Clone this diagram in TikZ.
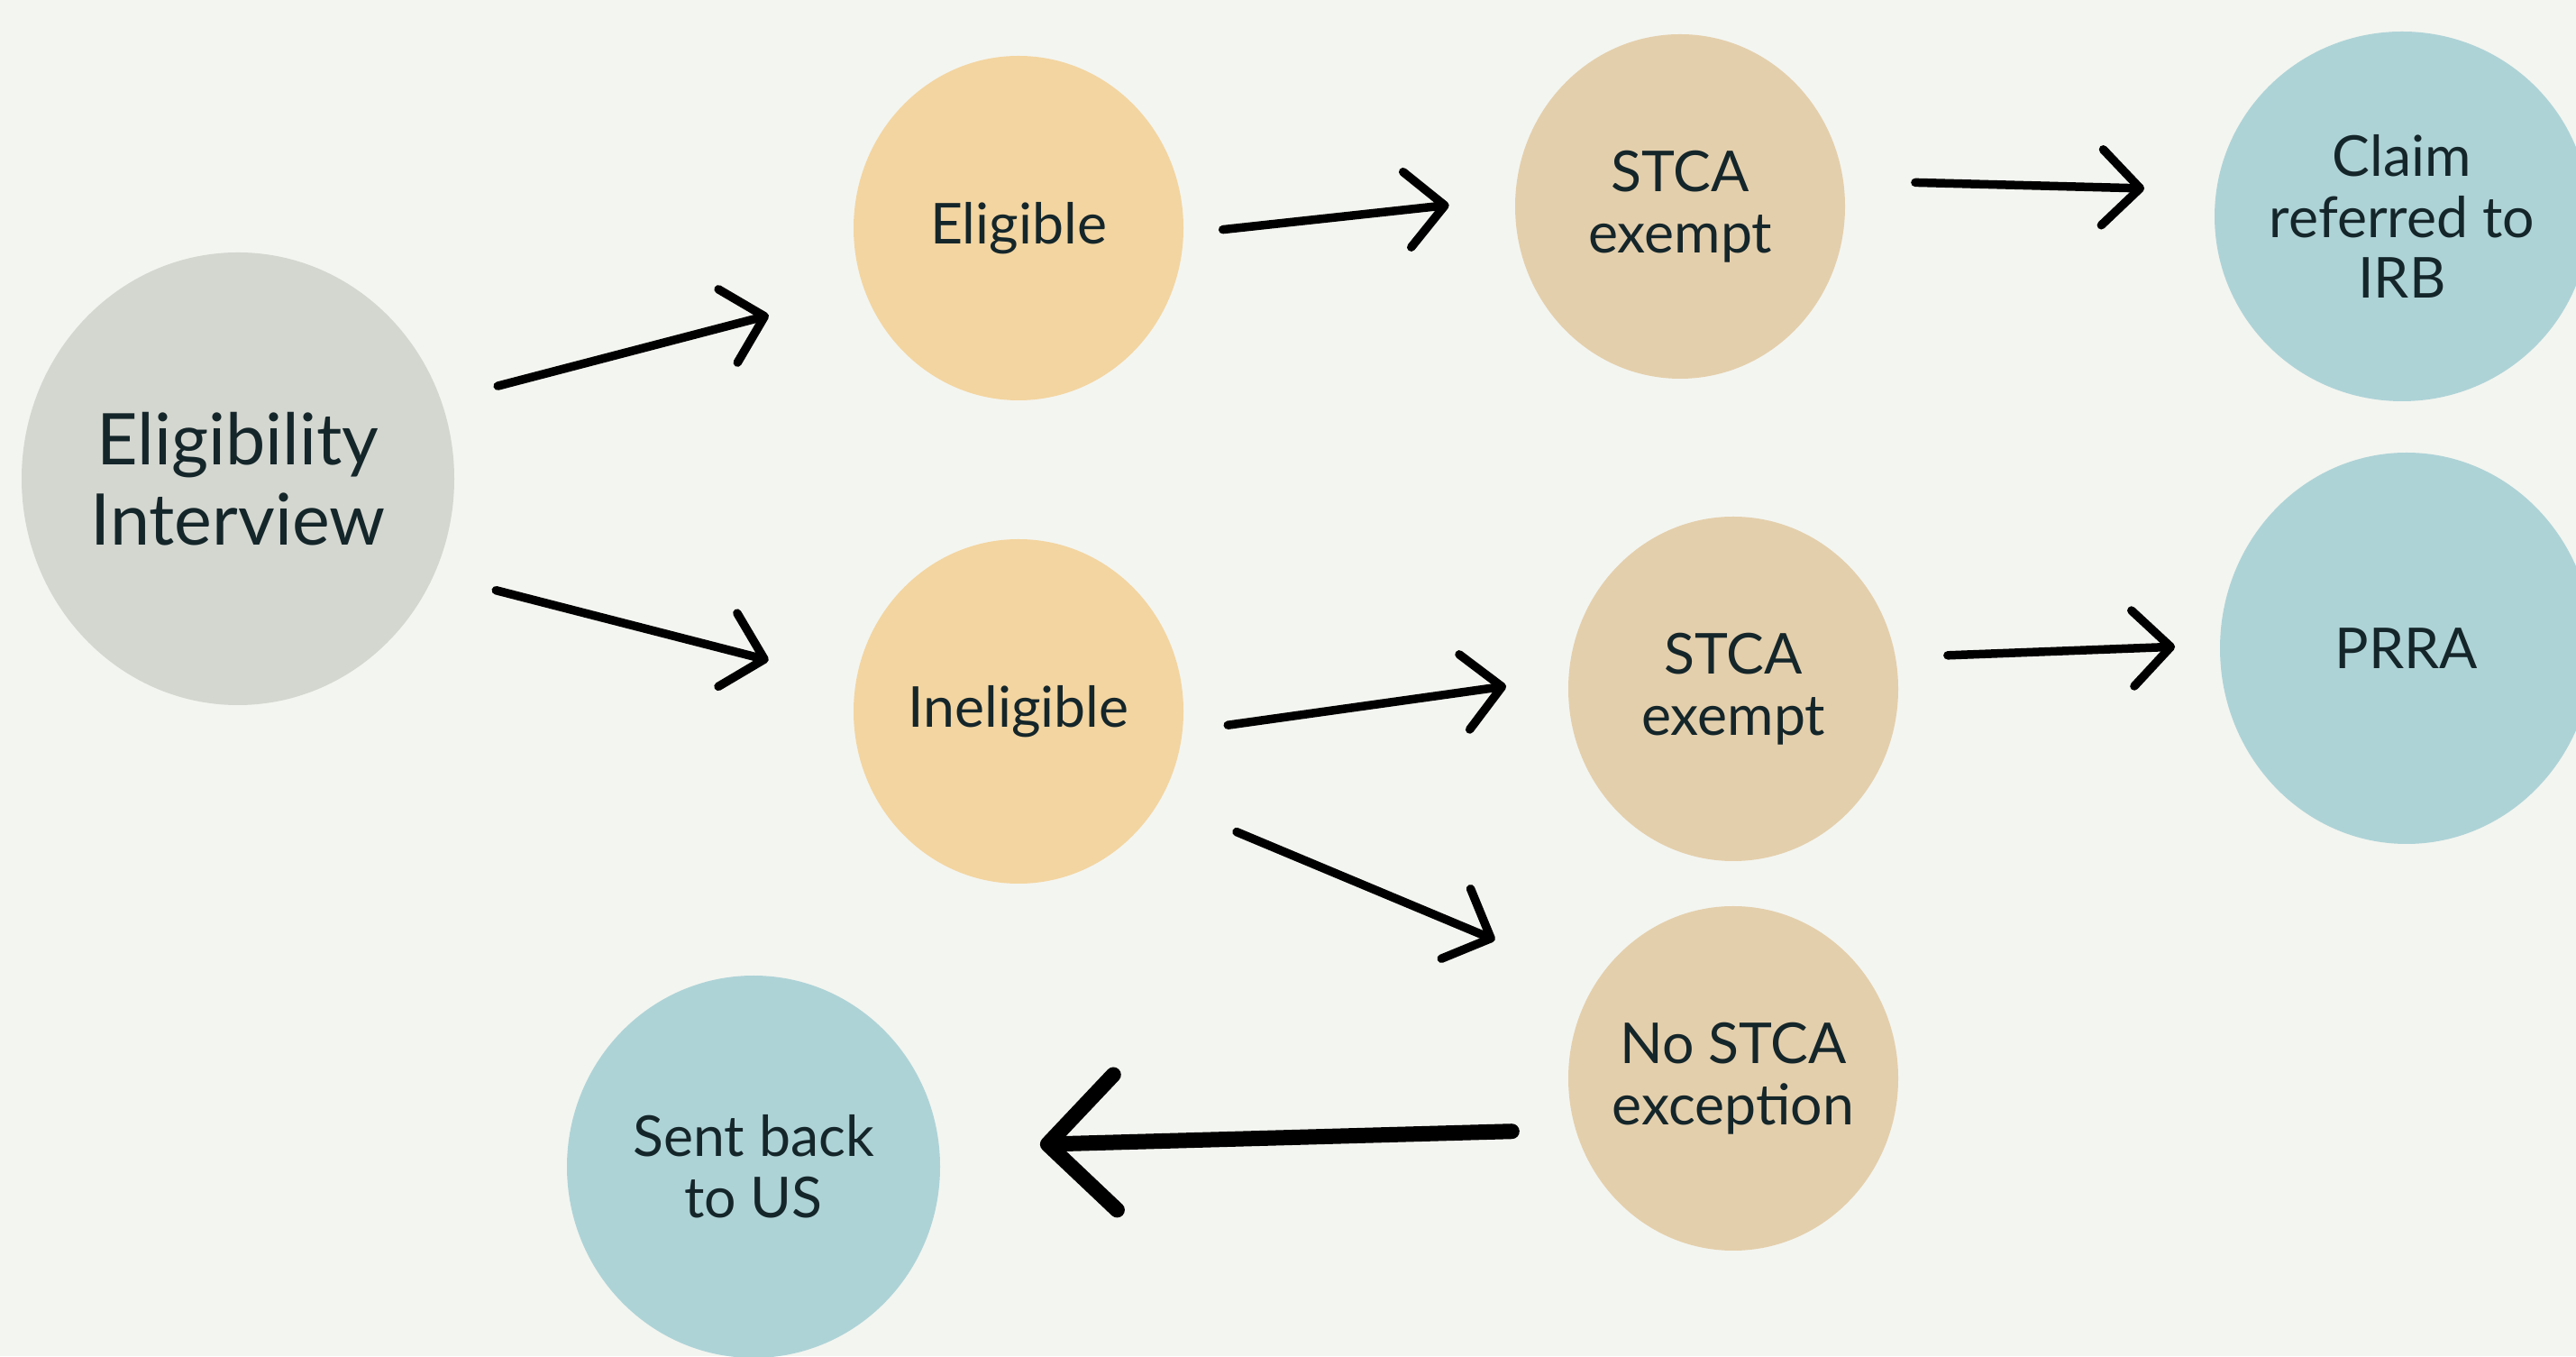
\documentclass[tikz,border=0pt]{standalone}
\usepackage{fontspec}
\setmainfont{Lato}
\usetikzlibrary{shapes.geometric,arrows.meta}

\definecolor{bgcol}{HTML}{F3F5F0}
\definecolor{greycol}{HTML}{D4D7D0}
\definecolor{goldcol}{HTML}{F3D5A1}
\definecolor{tancol}{HTML}{E4CFAC}
\definecolor{bluecol}{HTML}{AED3D7}
\definecolor{inkcol}{HTML}{15262A}

\tikzset{
  bubble/.style={ellipse, inner xsep=-0.5cm, inner ysep=0pt, outer sep=0pt,
    align=center, text=inkcol, font=\fontsize{17.8}{19.3}\selectfont,
    minimum width=3.66cm, minimum height=3.82cm},
  sketch/.style={line width=0.95mm, line cap=round,
    -{Straight Barb[length=4.2mm,width=8.4mm,round]}},
  bigsketch/.style={sketch, line width=1.7mm,
    -{Straight Barb[length=7.5mm,width=15mm,round]}}
}

\begin{document}
\begin{tikzpicture}
% \clip (0,0) rectangle (28.58,15.04);
\useasboundingbox (0,0) rectangle (28.58,15.04);
\clip (0,0) rectangle (28.58,15.04);
\fill[bgcol] (0,0) rectangle (28.58,15.04);

% Drawing the start bubble
\node[bubble, fill=greycol, minimum width=4.80cm, minimum height=5.02cm,
  font=\fontsize{22.5}{25.2}\selectfont] (intv) at (2.64,9.73) {Eligibility\\Interview};

% Drawing the second column
\node[bubble, fill=goldcol] (elig) at (11.30,12.51) {Eligible};
\node[bubble, fill=goldcol] (inel) at (11.30,7.15) {Ineligible};

% Drawing the third column
\node[bubble, fill=tancol] (stcatop) at (18.64,12.75) {STCA\\exempt};
\node[bubble, fill=tancol] (stcamid) at (19.23,7.40) {STCA\\exempt};
\node[bubble, fill=tancol] (nostca) at (19.23,3.08) {No STCA\\exception};

% Drawing the outcomes
\node[bubble, fill=bluecol, minimum width=4.16cm, minimum height=4.10cm] (irb) at (26.65,12.64) {Claim\\referred to\\IRB};
\node[bubble, fill=bluecol, minimum width=4.14cm, minimum height=4.34cm] (prra) at (26.70,7.85) {PRRA};
\node[bubble, fill=bluecol, minimum width=4.14cm, minimum height=4.24cm] (sentback) at (8.36,2.10) {Sent back\\to US};

% Drawing the arrows
\draw[sketch, shorten <=6.5mm, shorten >=11.0mm] (intv.21.6) -- (elig.202);
\draw[sketch, shorten <=7.1mm, shorten >=10.0mm] (intv.334.5) -- (inel.170);
\draw[sketch, shorten <=4.4mm, shorten >=7.4mm] (elig.358.7) -- (stcatop.177.8);
\draw[sketch, shorten <=8.0mm, shorten >=8.0mm] (stcatop.9.2) -- (irb.172);
\draw[sketch, shorten <=5.1mm, shorten >=7.0mm] (inel.353.9) -- (stcamid.176.6);
\draw[sketch, shorten <=5.8mm, shorten >=5.0mm] (stcamid.11.8) -- (prra.179.3);
\draw[sketch, shorten <=9.2mm, shorten >=12.2mm] (inel.328) -- (nostca.145.2);
\draw[bigsketch, shorten <=7.1mm, shorten >=11.2mm] (nostca.198.5) -- (sentback.6.2);
\end{tikzpicture}
\end{document}
